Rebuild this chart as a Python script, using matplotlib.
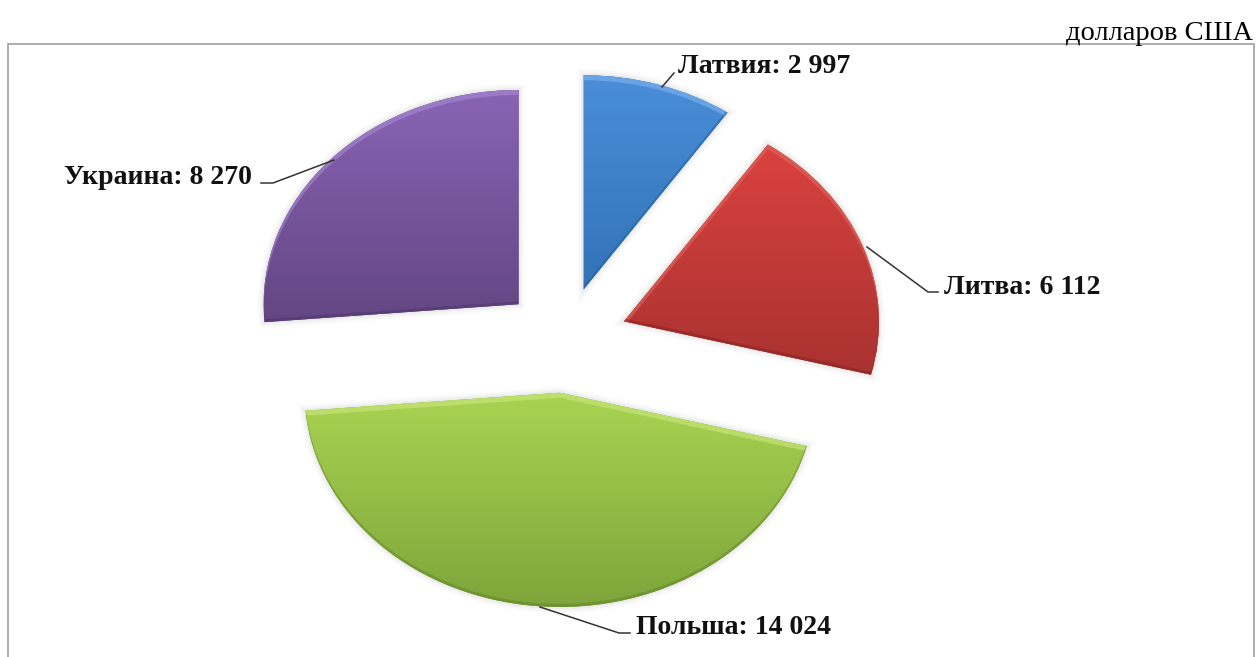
import numpy as np
import matplotlib
matplotlib.use("Agg")
import matplotlib.pyplot as plt
from matplotlib.colors import LinearSegmentedColormap
from matplotlib.patches import PathPatch, Rectangle
from matplotlib.path import Path

# Data
countries = ["Латвия", "Литва", "Польша", "Украина"]
values = [2997, 6112, 14024, 8270]
unit_label = "долларов США"

# Wedge colours: top of gradient, bottom of gradient, bevel light, bevel dark
top_colors = ["#4b8ed9", "#d9423f", "#a9d452", "#8a64b5"]
bottom_colors = ["#3273b7", "#a93230", "#7da53a", "#634683"]
light_colors = ["#7fb4ee", "#e2675f", "#cbe97e", "#a98bd3"]
dark_colors = ["#24578c", "#7c2220", "#5f7f2a", "#4b3466"]

W, H = 1256, 657
SQUASH = 0.84  # pie is tilted, vertical radius is smaller


def py(y):
    return (H - y) / SQUASH


def oriented(poly, ccw):
    x, y = poly[:, 0], poly[:, 1]
    area = np.sum(x[:-1] * y[1:] - x[1:] * y[:-1])
    return poly if (area > 0) == ccw else poly[::-1]


def band_path(wedge_path, dx, dy):
    # everything outside the shifted wedge, clipped to the wedge later
    poly = oriented(wedge_path.to_polygons(closed_only=True)[0], False) + [dx, dy]
    rect = oriented(np.array([[-500, -500], [2000, -500], [2000, 1500], [-500, 1500], [-500, -500.0]]), True)
    verts = np.vstack([rect, poly])
    codes = [Path.MOVETO] + [Path.LINETO] * (len(rect) - 1) + [Path.MOVETO] + [Path.LINETO] * (len(poly) - 1)
    return Path(verts, codes)


plt.rcParams["font.family"] = ["Liberation Serif", "DejaVu Serif"]

fig = plt.figure(figsize=(W / 100, H / 100), dpi=100, facecolor="white")
fig.add_artist(Rectangle((7.5 / W, -0.05), (1254 - 7.5) / W, (H - 43.5) / H + 0.05, transform=fig.transFigure,
                         fill=False, edgecolor="#a0a0a0", linewidth=1.2))

ax = fig.add_axes([0, 0, 1, 1])
ax.patch.set_alpha(0)
wedges, _ = ax.pie(values, startangle=90, counterclock=False, radius=255, center=(565, py(340)),
                   explode=[63] * 4, frame=True)
ax.set_aspect("auto")

for i, w in enumerate(wedges):
    path = w.get_path()
    w.set_facecolor(bottom_colors[i])
    w.set_edgecolor("none")
    w.set_zorder(2)

    # soft shadow around the slice
    for lw, a in [(9, 0.02), (6, 0.03), (3, 0.05)]:
        ax.add_patch(PathPatch(path, facecolor="none", edgecolor="#555555", linewidth=lw, alpha=a, zorder=1))

    # vertical gradient, clipped to the wedge
    box = path.get_extents()
    cmap = LinearSegmentedColormap.from_list("g", [top_colors[i], bottom_colors[i]])
    im = ax.imshow(np.linspace(0, 1, 256).reshape(-1, 1), cmap=cmap, aspect="auto", zorder=3,
                   extent=[box.x0, box.x1, box.y0, box.y1], origin="upper")
    im.set_clip_path(PathPatch(path, transform=ax.transData))

    # bevel: light band on top, dark band on the lower edge
    light = PathPatch(band_path(path, 0, -5 / SQUASH), facecolor=light_colors[i], edgecolor="none", alpha=0.6, zorder=4)
    ax.add_patch(light)
    light.set_clip_path(PathPatch(path, transform=ax.transData))
    dark = PathPatch(band_path(path, 0, 3 / SQUASH), facecolor=dark_colors[i], edgecolor="none", alpha=0.45, zorder=5)
    ax.add_patch(dark)
    dark.set_clip_path(PathPatch(path, transform=ax.transData))

ax.set_xlim(0, W)
ax.set_ylim(0, H / SQUASH)
ax.axis("off")

# Labels and leader lines, in the order of countries
label_x = [678, 944, 636, 64]
label_y = [66, 287, 628, 177]
leaders = [
    [(662, 87), (674, 73)],
    [(867, 247), (928, 292), (938, 292)],
    [(540, 607), (619, 633), (630, 633)],
    [(334, 160), (273, 183), (261, 183)],
]
for name, val, x, y, leader in zip(countries, values, label_x, label_y, leaders):
    text = f"{name}: {val:,}".replace(",", " ")
    ax.text(x, py(y), text, fontsize=20, fontweight="bold", color="#111111", ha="left", va="center", zorder=7)
    ax.plot([p[0] for p in leader], [py(p[1]) for p in leader], color="#333333", linewidth=1.1, zorder=6)

fig.text(1253 / W, 1 - 33 / H, unit_label, fontsize=20.5, color="black", ha="right", va="center")

fig.savefig("out.png", dpi=100)
